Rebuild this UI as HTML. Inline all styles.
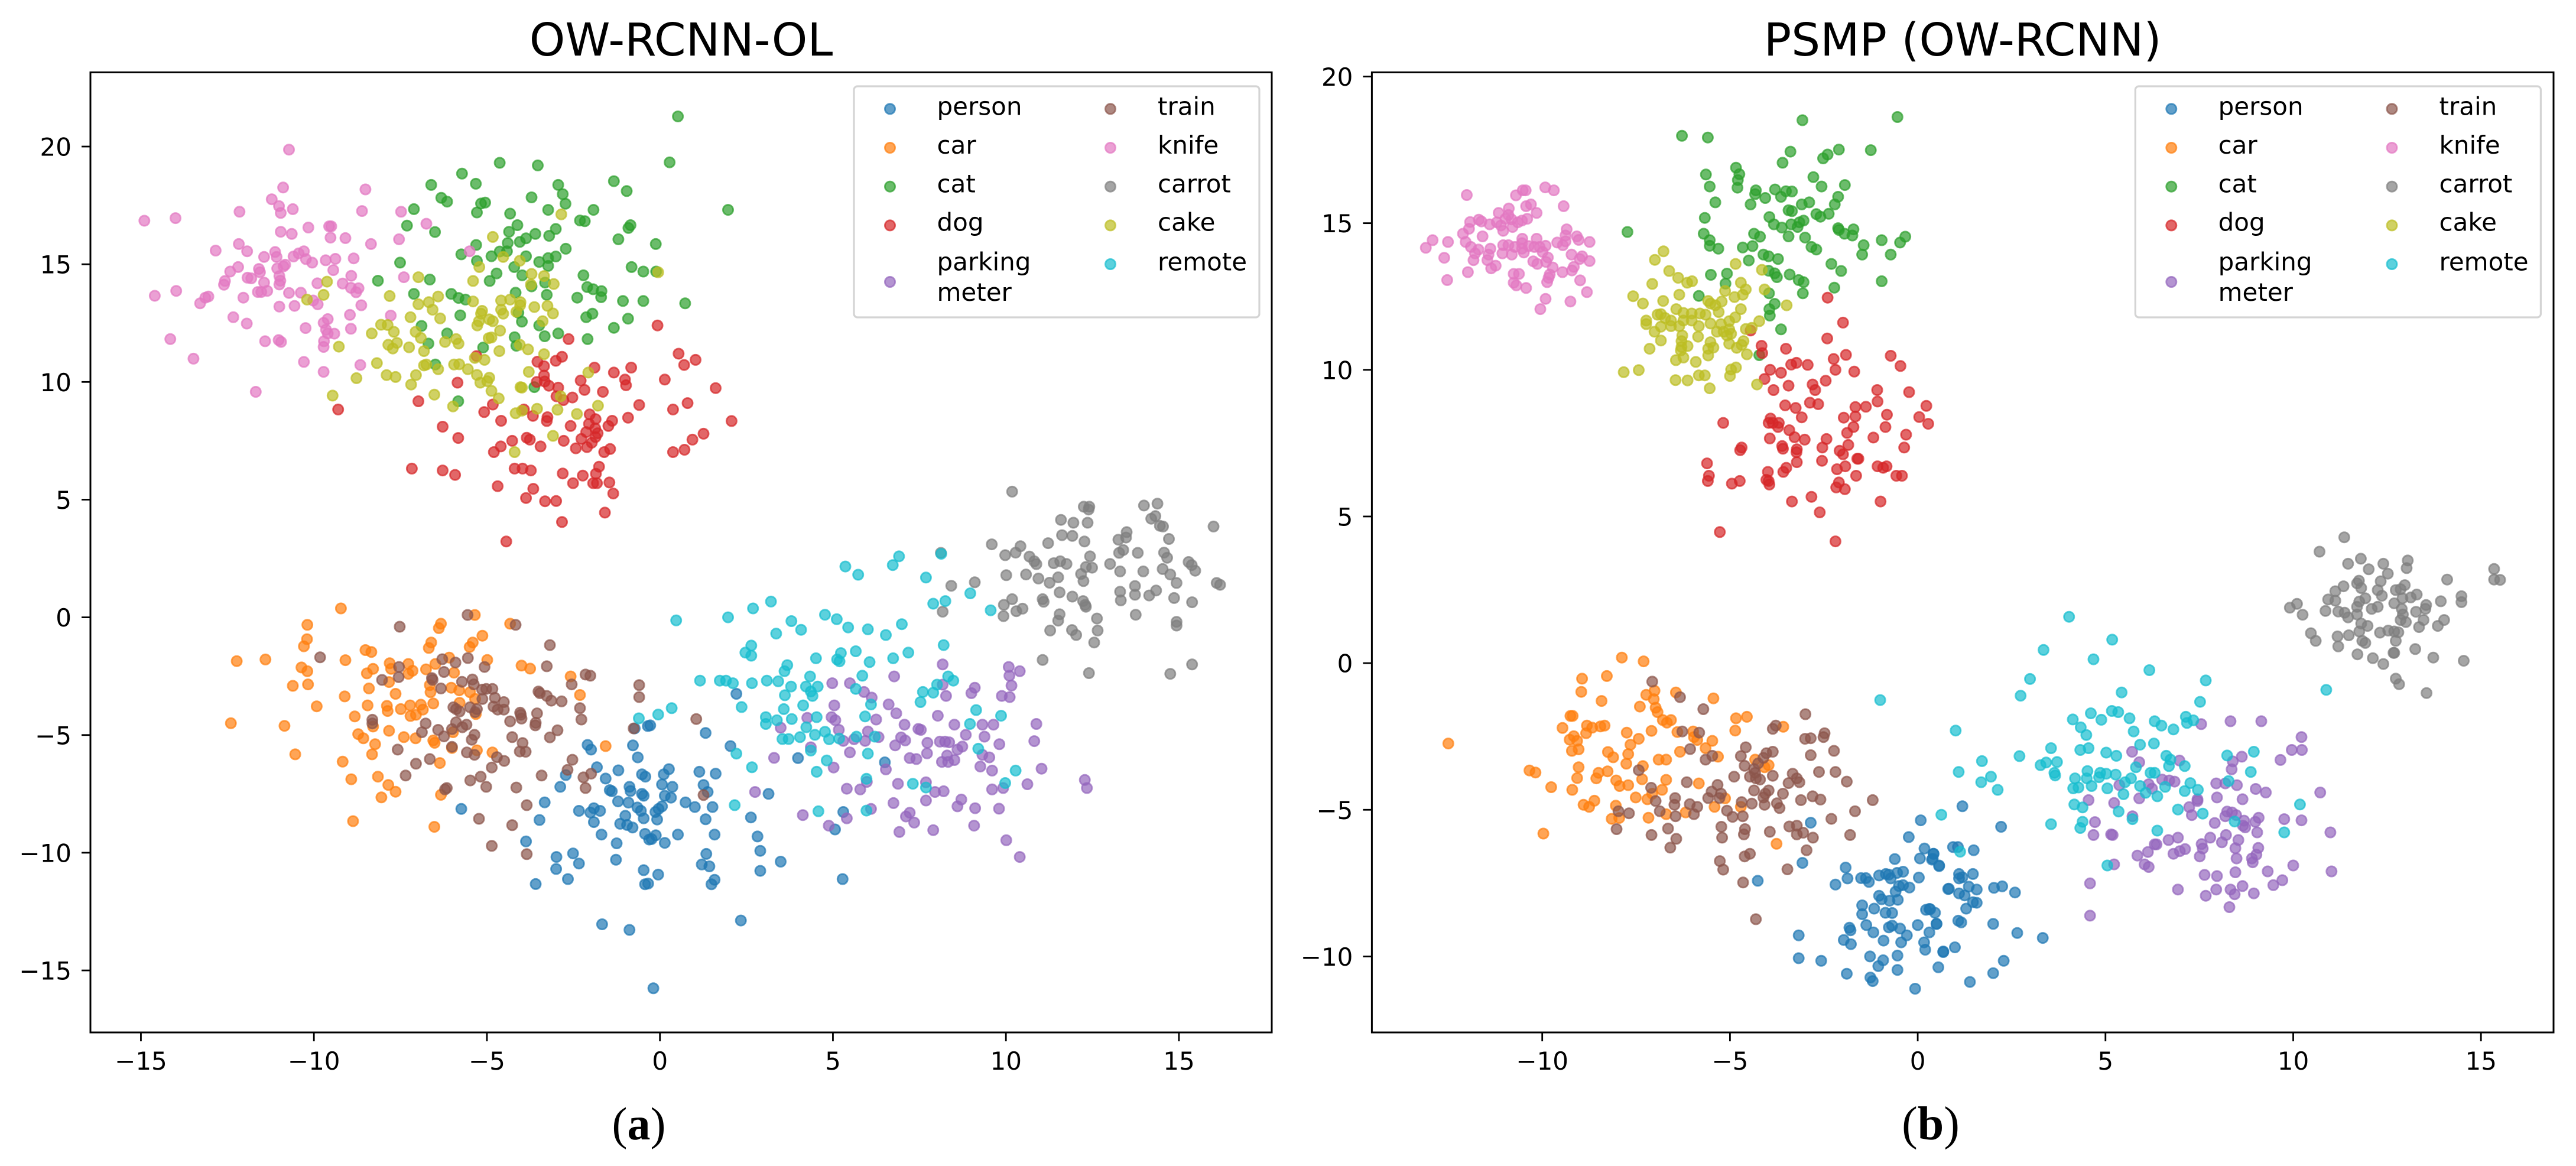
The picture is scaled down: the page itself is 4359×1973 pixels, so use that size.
<!DOCTYPE html>
<html lang="en">
<head>
<meta charset="utf-8">
<title>OW-RCNN-OL vs PSMP (OW-RCNN)</title>
<style>
html,body{margin:0;padding:0;background:#fff;}
svg{display:block;}
text{font-family:"DejaVu Sans","Liberation Sans",sans-serif;fill:#000;}
.cap{font-family:"Liberation Serif",serif;}
</style>
</head>
<body>
<svg id="fig" xmlns="http://www.w3.org/2000/svg" width="4359" height="1973" viewBox="0 0 4359 1973">
<rect x="0" y="0" width="4359" height="1973" fill="#fff"/>
<text class="cap" x="1081" y="1928" font-size="78" text-anchor="middle">(<tspan font-weight="bold">a</tspan>)</text>
<text class="cap" x="3267" y="1928" font-size="80" text-anchor="middle">(<tspan font-weight="bold">b</tspan>)</text>
</svg>
<script>
const categories=['person','car','cat','dog','parking\nmeter','train','knife','carrot','cake','remote'];
const seriesColors=['#1f77b4','#ff7f0e','#2ca02c','#d62728','#9467bd','#8c564b','#e377c2','#7f7f7f','#bcbd22','#17becf'];
const xTicksA=[-15,-10,-5,0,5,10,15];
const yTicksA=[-15,-10,-5,0,5,10,15,20];
const xTicksB=[-10,-5,0,5,10,15];
const yTicksB=[-10,-5,0,5,10,15,20];

const olPerson=[[-5.74,-8.14],[-3.87,-9.52],[-3.59,-11.33],[-3.48,-8.61],[-3.33,-7.86],[-2.99,-10.18],[-3,-10.69],[-2.66,-11.12],[-2.51,-10.03],[-2.34,-10.46],[-2.88,-7.2],[-2.72,-6.7],[-2.34,-8.22],[-2.01,-8.29],[-1.91,-8.11],[-1.73,-8.22],[-1.91,-8.7],[-1.69,-9.23],[-2.09,-5.42],[-1.99,-5.62],[-1.82,-6.37],[-1.57,-6.85],[-1.45,-7.34],[-1.39,-7.39],[-1.2,-6.5],[-1.21,-7.82],[-.91,-7.87],[-1,-8.43],[-1.15,-8.77],[-.95,-8.82],[-.79,-8.93],[-1.25,-9.6],[-1.27,-10.3],[-1.67,-13.04],[-.88,-13.28],[-.78,-5.44],[-.64,-5.95],[-.73,-4.72],[-.35,-4.62],[-.88,-7.2],[-.85,-7.38],[-.52,-6.67],[-.42,-6.77],[-.52,-7.5],[-.47,-7.58],[-.65,-8.08],[-.55,-8.22],[-.47,-8.54],[-.43,-9.2],[-.31,-9.44],[-.47,-10.74],[-.43,-11.34],[-.19,-15.76],[-.28,-4.59],[.26,-6.45],[.11,-6.67],[.06,-7.1],[.36,-7.2],[.14,-7.58],[.32,-7.66],[.06,-8.03],[-.04,-8.14],[-.13,-8.27],[-.08,-8.59],[.74,-7.86],[1.01,-8.06],[-.12,-9.26],[-.24,-9.42],[.14,-9.58],[.52,-9.23],[-.05,-10.93],[-.34,-11.31],[1.14,-6.56],[1.61,-6.64],[1.26,-7.12],[1.38,-7.42],[1.52,-8.06],[1.32,-8.58],[1.58,-9.23],[1.34,-10.05],[1.21,-10.5],[1.43,-10.58],[1.58,-11.15],[1.49,-11.34],[2.21,-3.25],[1.32,-4.91],[2.04,-5.47],[3.14,-7.5],[2.63,-8.5],[2.82,-9.31],[2.9,-9.92],[2.9,-10.77],[3.49,-10.38],[2.34,-12.88],[3.99,-5.98],[6.5,-6.16],[5.3,-8.27],[5.06,-9.01],[5.28,-11.12]];
const olCar=[[-9.22,.38],[-5.35,.1],[-4.33,-.27],[-10.19,-.32],[-6.33,-.27],[-6.39,-.46],[-10.2,-.93],[-10.29,-1.23],[-5.13,-.78],[-6.61,-1.07],[-6.68,-1.3],[-5.41,-1.07],[-5.5,-1.26],[-8.51,-1.39],[-8.34,-1.47],[-12.23,-1.86],[-11.4,-1.79],[-9.09,-1.82],[-6.09,-1.71],[-4.99,-1.81],[-7.81,-1.95],[-7.27,-1.98],[-6.49,-1.98],[-10.36,-2.13],[-10.19,-2.29],[-8.29,-2.19],[-8.47,-2.38],[-7.77,-2.19],[-7.15,-2.27],[-7.27,-2.4],[-6.76,-2.21],[-5.95,-2.35],[-4,-2.05],[-3.75,-2.18],[-2.58,-2.51],[-10.17,-2.85],[-10.61,-2.91],[-8.41,-3.02],[-7.83,-2.75],[-7.64,-3.25],[-6.65,-2.88],[-6.63,-3.18],[-6.03,-2.99],[-5.8,-3.1],[-5.49,-3.18],[-2.31,-3.3],[-9.11,-3.36],[-9.92,-3.78],[-8.45,-3.74],[-7.89,-3.76],[-7.87,-3.98],[-7.49,-3.9],[-7.22,-3.74],[-6.91,-3.71],[-6.85,-3.92],[-6.55,-3.66],[-5.79,-3.63],[-7.21,-4.19],[-7.05,-4.14],[-8.82,-4.21],[-5.32,-4.11],[-5.34,-3.47],[-12.4,-4.5],[-10.85,-4.61],[-8.29,-4.64],[-7.83,-4.82],[-5.98,-4.88],[-8.72,-4.96],[-8.57,-5.14],[-7.4,-5.09],[-7.06,-5.14],[-8.23,-5.39],[-8.32,-5.82],[-6.55,-5.23],[-6.51,-5.33],[-6.01,-5.55],[-5.29,-5.65],[-4.84,-5.74],[-1.57,-5.47],[-10.54,-5.82],[-9.17,-6.13],[-6.36,-6.19],[-8.92,-6.88],[-8.15,-6.77],[-7.85,-7.12],[-7.64,-7.41],[-8.05,-7.65],[-6.33,-7.54],[-8.87,-8.66],[-6.52,-8.9]];
const olCat=[[-4.63,19.31],[-3.53,19.2],[-5.72,18.85],[-6.61,18.37],[-5.32,18.42],[-2.94,18.37],[-1.33,18.53],[-.96,18.11],[-2.81,17.98],[-2.73,17.57],[-6.32,17.82],[-6.15,17.66],[-3.71,17.84],[-5.17,17.58],[-5.05,17.62],[-7.11,17.34],[-5.29,17.2],[-4.33,17.15],[-3.23,17.31],[-1.92,17.31],[-2.31,16.86],[-2.17,16.83],[-7.31,16.64],[-6.5,16.37],[-4.12,16.66],[-4.36,16.38],[-3.01,16.5],[-.85,16.66],[-.91,16.54],[-3.6,16.29],[-3.2,16.21],[-3.87,16.1],[-4.05,15.95],[-4.4,15.9],[-5.31,15.82],[-1.2,16.06],[-.12,15.86],[-5.74,15.42],[-2.72,15.66],[-4.87,15.34],[-4.63,15.54],[-4.42,15.55],[-3.87,15.34],[-5.29,15.14],[-3.49,15.1],[-3.23,15.26],[-3.01,15.33],[-3.23,14.93],[-4.21,14.88],[-7.51,15.07],[-.82,14.88],[-.48,14.69],[-4.72,14.61],[-3.98,14.53],[-2.21,14.53],[-6.65,14.35],[-8.15,14.3],[-4.92,14.29],[-3.71,14.06],[-3.32,14.22],[-2.1,14.03],[-1.93,13.94],[-1.69,13.86],[-1.7,13.6],[-2.39,13.58],[-7.11,13.74],[-6.03,13.74],[-5.82,13.57],[-5.62,13.5],[-4.17,13.79],[-3.27,13.7],[-1.07,13.44],[-.48,13.44],[-5.77,12.83],[-4.09,12.94],[-3.99,12.56],[-2.13,12.75],[-1.95,12.9],[-.92,12.69],[-6.89,12.38],[-3.49,12.4],[-1.33,12.3],[-6.15,12.06],[-2.94,12.06],[-4.2,11.9],[-3.33,11.94],[-2.09,11.82],[-6.69,11.63],[-4.15,11.54],[-5.11,11.46],[-6.49,10.74],[-3.63,9.78],[-5.83,9.18],[.52,21.28],[.28,19.33],[1.97,17.31],[-.11,14.69],[.73,13.34]];
const olDog=[[-2.64,11.82],[-2.83,11.07],[-3.01,10.9],[-3.54,10.86],[-3.35,10.67],[-5.3,11.1],[-1.89,10.61],[-.83,10.61],[-3.35,10.27],[-3.56,10],[-3.33,10.02],[-3.21,9.84],[-2.29,10.06],[-1.33,10.4],[-1.01,10.1],[-.98,9.86],[-5.85,9.97],[-2.94,9.76],[-2.18,9.66],[-1.65,9.58],[-2.99,9.39],[-2.79,9.23],[-2.53,9.34],[-6.98,9.18],[-.6,9.02],[-4.83,9.04],[-5.08,8.72],[-9.3,8.83],[-3.93,8.83],[-3.67,8.56],[-3.25,8.5],[-3.27,8.34],[-2.03,8.62],[-1.86,8.42],[-.92,8.48],[-4.59,8.35],[-1.38,8.35],[-1.49,8.13],[-2.58,8.13],[-2.05,8.22],[-2.13,7.87],[-1.87,8.03],[-1.8,7.82],[-1.86,7.66],[-6.28,8.1],[-5.83,7.62],[-3.85,7.63],[-3.76,7.55],[-4.27,7.5],[-2.78,7.5],[-2.27,7.58],[-1.97,7.42],[-4.6,7.26],[-4.8,7.02],[-3.45,7.26],[-2.43,7.18],[-2.11,7.23],[-1.44,7.15],[-1.61,7.02],[-7.17,6.32],[-6.28,6.24],[-5.92,6.05],[-4.2,6.32],[-3.97,6.32],[-3.73,6.24],[-1.76,6.4],[-2.81,6.11],[-2.51,5.7],[-2.23,6.02],[-1.85,6.1],[-1.93,5.7],[-1.82,5.7],[-1.46,5.73],[-1.35,5.26],[-4.69,5.57],[-3.66,5.46],[-3.87,5.07],[-3.32,4.93],[-3,4.94],[-1.59,4.45],[-2.83,4.05],[-4.44,3.22],[-.07,12.4],[.54,11.2],[1.03,10.94],[.7,10.72],[.14,10.1],[1.61,9.74],[.8,9.1],[.38,8.83],[2.07,8.34],[1.26,7.8],[.94,7.55],[.71,7.12],[.38,7.02]];
const olParking=[[8.17,-2],[10.08,-2.11],[10.1,-2.48],[10.4,-2.29],[10.16,-2.9],[6.77,-2.51],[4.98,-2.8],[5.49,-2.8],[8.17,-2.86],[9.1,-2.99],[9,-3.22],[5.9,-3.17],[6.12,-3.41],[8.27,-3.34],[9.88,-3.34],[10.11,-3.39],[5.04,-3.74],[6.61,-3.7],[6.83,-4.08],[8.03,-4.18],[4.26,-4.27],[4.96,-4.24],[5.07,-4.37],[6.25,-4.34],[10.88,-4.53],[7.07,-4.56],[8.51,-4.56],[9.32,-4.56],[9.64,-4.56],[3.49,-4.69],[7.47,-4.74],[7.54,-4.78],[5.17,-4.78],[6.01,-4.85],[8.84,-4.99],[9.38,-5.07],[6.97,-5.1],[7.09,-5.23],[6.32,-5.09],[5.61,-5.18],[5.93,-5.25],[5.3,-5.25],[7.73,-5.33],[8.09,-5.28],[8.24,-5.28],[8.36,-5.31],[10.82,-5.26],[9.81,-5.39],[6.8,-5.44],[8.74,-5.49],[8.6,-5.62],[4.36,-5.52],[5.49,-5.74],[7.72,-5.78],[9.32,-5.84],[9.52,-5.95],[8.3,-5.87],[3.3,-5.97],[7.22,-5.98],[7.41,-6.02],[8.51,-6.06],[8.15,-6.14],[8.33,-6.14],[5.02,-6.38],[6.53,-6.46],[9.26,-6.34],[9.6,-6.51],[11.03,-6.43],[12.28,-6.91],[12.34,-7.25],[5.98,-6.99],[6.88,-7.07],[7.69,-7.01],[10.62,-7.09],[5.4,-7.28],[5.79,-7.31],[9.92,-7.25],[9.6,-7.31],[2.75,-7.42],[7.95,-7.42],[8.2,-7.39],[6.75,-7.89],[7.69,-7.78],[8.71,-7.74],[8.6,-8.03],[9.11,-8.11],[9.8,-8.13],[6.1,-8.14],[4.13,-8.4],[7.22,-8.3],[7.11,-8.46],[5.4,-8.54],[7.35,-8.72],[4.88,-8.85],[9.08,-8.85],[6.92,-9.12],[7.9,-9.04],[10.01,-9.47],[10.4,-10.18]];
const olTrain=[[-5.56,.1],[-4.17,-.32],[-7.52,-.4],[-3.18,-1.18],[-9.82,-1.7],[-6.29,-1.78],[-5.91,-1.92],[-5.55,-1.73],[-7.54,-2.11],[-7.55,-2.54],[-8.03,-2.66],[-6.24,-2.32],[-6.59,-2.58],[-6.57,-2.66],[-5.07,-2.11],[-3.27,-2.08],[-5.42,-2.64],[-5.72,-2.74],[-5.38,-2.85],[-2.15,-2.43],[-2.01,-2.48],[-2.55,-2.85],[-.6,-2.88],[-6.33,-3.02],[-5.14,-3.07],[-5.02,-3.04],[-4.84,-3.04],[-3.51,-3.15],[-3.47,-3.22],[-3.27,-3.34],[-3.14,-3.54],[-2.84,-3.57],[-5.13,-3.47],[-4.77,-3.42],[-4.51,-3.6],[-.6,-3.39],[-5.97,-3.82],[-5.89,-3.9],[-5.79,-4],[-5.49,-3.82],[-5.29,-3.9],[-5.34,-4.03],[-4.81,-3.79],[-4.69,-3.92],[-4.51,-3.92],[-2.31,-3.86],[-2.27,-4.34],[-4.04,-4.05],[-4.02,-4.14],[-3.55,-4.08],[-4,-4.3],[-4.33,-4.42],[-8.31,-4.35],[-8.31,-4.51],[-6.77,-4.51],[-5.89,-4.46],[-5.71,-4.67],[-5.59,-4.56],[-3.59,-4.48],[-3.6,-4.59],[-6.01,-4.75],[-.76,-4.72],[-6.41,-4.78],[-6.88,-4.88],[-2.96,-4.8],[-6.24,-5.06],[-5.36,-4.99],[-5.44,-5.2],[-4.27,-5.09],[-3.18,-5.1],[-3.97,-5.34],[-6.01,-5.5],[-7.58,-5.62],[-5.58,-5.74],[-5.36,-5.84],[-4.05,-5.7],[-3.88,-5.71],[-6.65,-6.02],[-7.05,-6.22],[-4.71,-5.94],[-4.5,-6.1],[-2.53,-6.05],[-4.86,-6.38],[-2.67,-6.48],[-1.99,-6.64],[-2.21,-6.8],[-3.42,-6.72],[-7.35,-6.72],[-5.48,-6.93],[-5.18,-6.77],[-5.02,-7.2],[-4.15,-7.23],[-2.15,-7.25],[-6.16,-7.25],[-6.21,-7.31],[-3.85,-7.98],[-5.23,-8.56],[-4.27,-8.83],[-4.86,-9.71],[-3.85,-10.06],[1.05,-4.32],[1.26,-7.55]];
const olKnife=[[-10.72,19.87],[-10.89,18.26],[-8.51,18.18],[-11.22,17.76],[-11.01,17.47],[-10.96,17.18],[-10.61,17.34],[-12.15,17.23],[-14.9,16.85],[-14,16.96],[-8.61,17.26],[-7.48,17.23],[-6.75,16.72],[-10.16,16.56],[-9.56,16.61],[-9.5,16.61],[-10.96,16.38],[-10.64,16.29],[-9.52,16.13],[-9.09,16.11],[-7.54,16.06],[-8.35,15.86],[-12.17,15.86],[-12.84,15.58],[-11.93,15.55],[-11.12,15.52],[-11.08,15.31],[-11.44,15.31],[-10.29,15.55],[-10.44,15.46],[-10.59,15.33],[-10.23,15.22],[-10.05,15.07],[-9.66,15.17],[-9.38,15.23],[-8.85,15.25],[-5.5,15.55],[-10.83,14.98],[-10.88,14.91],[-11.06,14.82],[-9.44,14.75],[-12.19,14.88],[-12.42,14.69],[-11.59,14.8],[-11.56,14.66],[-11.92,14.43],[-11.81,14.4],[-11,14.5],[-10.97,14.3],[-11,14.14],[-11.44,14.22],[-12.57,14.29],[-12.6,14.13],[-9.9,14.19],[-9.17,14.18],[-8.92,14.51],[-7.4,14.45],[-8.93,14],[-8.71,13.98],[-8.78,13.81],[-11.35,13.87],[-11.62,13.82],[-11.52,13.82],[-10.72,13.78],[-10.38,13.79],[-14.6,13.66],[-13.98,13.87],[-12.04,13.58],[-13.05,13.63],[-13.14,13.58],[-13.29,13.34],[-10.02,13.46],[-9.89,13.3],[-11,13.2],[-10.56,13.23],[-8.63,13.26],[-8.96,12.85],[-7.78,12.82],[-12.33,12.75],[-11.94,12.48],[-9.6,12.67],[-9.72,12.51],[-10.24,12.29],[-8.93,12.26],[-9.65,12.22],[-9.6,12.06],[-9.41,12.05],[-14.15,11.82],[-11.41,11.73],[-11.02,11.78],[-10.95,11.7],[-9.71,11.73],[-9.72,11.49],[-13.48,10.99],[-10.29,10.85],[-8.66,10.72],[-9.72,10.43],[-11.68,9.58]];
const olCarrot=[[10.18,5.34],[12.25,4.7],[12.41,4.7],[12.39,4.58],[13.99,4.75],[14.38,4.83],[11.59,4.14],[11.95,4.02],[12.36,4.02],[14.32,4.3],[14.2,4.19],[16,3.86],[14.45,3.89],[14.54,3.86],[13.49,3.62],[13.47,3.39],[13.25,3.3],[11.62,3.49],[11.92,3.46],[14.71,3.33],[12.27,3.22],[11.22,3.15],[9.59,3.1],[10.42,3.02],[10.28,2.75],[9.98,2.64],[10.68,2.58],[10.82,2.38],[10.88,2.26],[8.12,2.74],[13.39,2.86],[13.27,2.74],[13.81,2.74],[14.57,2.75],[14.66,2.53],[12.43,2.59],[11.38,2.3],[11.57,2.38],[11.75,2.27],[12.31,2.14],[12.49,2.11],[13.01,2.27],[15.28,2.35],[15.37,2.22],[15.47,1.98],[13.3,1.95],[13.97,1.95],[14.53,2.05],[14.75,1.82],[10.01,1.79],[10.58,1.82],[10.94,1.65],[11.51,1.7],[12.17,1.84],[12.24,1.54],[11.26,1.47],[14.93,1.46],[9.1,1.49],[8.42,1.34],[16.09,1.46],[16.19,1.38],[11.55,1.06],[11.92,.88],[12.23,.69],[12.29,.53],[12.31,.45],[13.3,1.09],[13.32,.72],[13.73,1.33],[13.73,.96],[14.14,.93],[14.34,1.14],[14.86,.82],[15.38,.64],[11.06,.77],[11.09,.66],[10.18,.77],[9.94,.53],[10.48,.37],[10.3,.26],[9.93,.05],[11.55,.13],[11.51,-.14],[12.63,-.05],[13.75,.11],[8.17,.24],[14.93,-.19],[14.93,-.35],[11.28,-.56],[11.91,-.54],[12.03,-.75],[12.65,-.56],[12.55,-1.07],[11.06,-1.81],[12.4,-2.37],[14.75,-2.4],[15.38,-2]];
const olCake=[[-2.85,17.12],[-4.83,16.16],[-4.53,15.31],[-4.05,15.15],[-5.22,14.88],[-3.71,14.59],[-3.35,14.5],[-6.98,14.45],[-5.4,14.29],[-3.73,14.14],[-3.07,14.16],[-9.62,14.26],[-9.72,13.7],[-10.2,13.5],[-7.81,13.65],[-6.41,13.63],[-6.68,13.39],[-6.98,13.3],[-5.4,13.42],[-4.59,13.46],[-4.33,13.5],[-4.03,13.39],[-4.04,13.26],[-3.63,13.18],[-3.25,13.23],[-3.09,12.91],[-6.57,13.07],[-7.21,12.75],[-6.35,12.7],[-5.14,13.02],[-4.59,13.07],[-4.53,12.9],[-4.15,12.98],[-5.17,12.9],[-5.23,12.58],[-5.28,12.4],[-4.93,12.66],[-4.83,12.58],[-3.39,12.58],[-8.06,12.43],[-7.87,12.42],[-7.69,12.13],[-7.06,12.13],[-6.91,11.87],[-8.33,12.06],[-4.62,12.18],[-4.95,11.86],[-4.87,11.89],[-5.89,11.82],[-5.82,11.63],[-6.21,11.7],[-7.85,11.58],[-7.6,11.66],[-7.72,11.42],[-7.25,11.47],[-9.28,11.5],[-6.82,11.31],[-4.64,11.31],[-4.05,11.58],[-3.81,11.38],[-3.35,11.18],[-5.35,11.02],[-5.07,10.94],[-8.18,10.8],[-6.82,10.7],[-6.75,10.74],[-6.41,10.54],[-5.95,10.74],[-5.8,10.75],[-5.55,10.54],[-7.05,10.29],[-7.9,10.29],[-7.64,10.21],[-8.77,10.16],[-5.29,10.3],[-4.93,10.18],[-5.19,9.97],[-4.99,10.03],[-7.19,9.89],[-3.79,10.43],[-2.07,10.4],[-4.03,9.78],[-3.99,9.76],[-4.87,9.62],[-6.52,9.46],[-4.66,9.3],[-2.87,9.39],[-9.46,9.42],[-5.98,8.96],[-3.55,8.86],[-2.96,8.82],[-1.79,8.99],[-4.17,8.67],[-3.99,8.78],[-2.4,8.64],[-3.09,7.71],[-4.2,7.02],[-.05,14.66]];
const olRemote=[[5.36,2.16],[5.73,1.81],[6.91,2.59],[6.73,2.22],[7.69,1.69],[8.13,2.7],[8.97,1.02],[8.25,.69],[7.9,.58],[9.56,.3],[.47,-.13],[1.97,0],[2.69,.38],[3.21,.67],[4.77,.11],[5.11,-.08],[5.44,-.43],[3.8,-.16],[4.08,-.53],[3.36,-.69],[6.01,-.51],[6.53,-.75],[6.99,-.29],[8.2,-1.18],[2.64,-1.2],[2.47,-1.5],[2.64,-1.63],[5.66,-1.44],[5.23,-1.52],[5.12,-1.79],[5.19,-1.87],[6.06,-1.9],[4.51,-1.74],[6.74,-1.74],[7.18,-1.5],[3.68,-2.03],[3.6,-2.29],[1.16,-2.69],[1.73,-2.69],[1.91,-2.69],[2.11,-2.8],[2.66,-2.8],[3.09,-2.69],[3.42,-2.72],[4.34,-2.51],[5.85,-2.48],[8.33,-2.51],[8.48,-2.69],[3.79,-2.94],[4.22,-2.94],[4.56,-2.94],[5.66,-3.04],[8.01,-2.86],[4.36,-3.15],[4.41,-3.34],[3.61,-3.31],[7.6,-3.17],[7.9,-3.2],[7.53,-3.6],[6.1,-3.7],[2.36,-3.81],[.34,-3.86],[-.05,-4.13],[4.14,-3.74],[3.58,-3.9],[9.14,-3.94],[3.06,-4.24],[3.06,-4.53],[3.38,-4.37],[3.81,-4.32],[4.53,-4.24],[5.93,-4.21],[9.86,-4.18],[8.96,-4.53],[4.23,-4.67],[4.48,-4.99],[4.77,-4.86],[4.05,-5.09],[3.72,-5.17],[3.54,-5.17],[4.89,-5.18],[5.18,-5.15],[5.68,-5.07],[6.21,-5.07],[2.21,-5.79],[4.36,-5.66],[6.01,-5.79],[9.2,-5.58],[4.82,-6.08],[2.66,-6.37],[4.53,-6.56],[10.28,-6.51],[5.97,-6.86],[7.31,-7.07],[7.69,-7.23],[9.98,-7.04],[2.16,-7.98],[4.58,-8.24],[5.97,-8.21],[-.61,-4.29]];

const psPerson=[[-2.85,-5.44],[.08,-5.36],[-.24,-5.93],[.18,-6.32],[.42,-6.5],[.4,-6.67],[.06,-6.66],[-.61,-6.68],[.57,-6.9],[-3.07,-6.81],[-1.92,-6.97],[-1.87,-7.34],[-2.19,-7.55],[-1.51,-7.33],[-1.38,-7.33],[-1.3,-7.46],[-1.03,-7.24],[-.85,-7.19],[-.77,-7.21],[-.72,-7.34],[-.55,-7.15],[-.39,-7.11],[.03,-7.31],[-4.26,-7.42],[-.5,-7.6],[-.39,-7.57],[-.22,-7.65],[-.59,-7.79],[-.53,-8.07],[.81,-7.7],[-1.03,-7.93],[-.96,-8.05],[-.75,-8.1],[-1.48,-8.26],[-1.16,-8.37],[-1.48,-8.56],[.22,-8.41],[.33,-8.39],[.46,-8.51],[-.86,-8.51],[-.68,-8.52],[-1.37,-8.93],[.5,-8.89],[0,-8.93],[-.77,-9.01],[-.68,-8.95],[-.47,-9.05],[-1.82,-9.02],[-1.79,-9.11],[-1.18,-9.18],[.31,-9.18],[-3.17,-9.28],[-.29,-9.28],[-1.97,-9.44],[-1.78,-9.58],[-.91,-9.46],[-.44,-9.52],[.17,-9.52],[.2,-9.77],[.68,-9.85],[-.54,-9.97],[-1.27,-10],[-3.17,-10.06],[-2.57,-10.15],[-.92,-10.13],[-1.05,-10.33],[-.54,-10.46],[.55,-10.37],[-1.89,-10.59],[-1.26,-10.72],[-1.2,-10.84],[-.07,-11.1],[1.19,-4.88],[2.22,-5.58],[.94,-6.27],[1.07,-6.27],[1.49,-6.38],[.42,-6.5],[.38,-6.7],[.57,-6.92],[1.1,-7.19],[1.19,-7.3],[1.47,-7.19],[1.1,-7.34],[.83,-7.69],[1.36,-7.62],[1.57,-7.72],[1.1,-7.85],[1.25,-7.92],[2.03,-7.66],[2.25,-7.61],[2.59,-7.82],[1.57,-8.17],[1.47,-8.15],[1.29,-8.37],[.31,-8.38],[.5,-8.89],[1.08,-8.78],[1.16,-8.84],[2.01,-8.89],[2.65,-9.2],[3.33,-9.37],[.99,-9.69],[.68,-9.83],[2.29,-10.15],[2.01,-10.57],[1.39,-10.87]];
const psCar=[[-7.88,.19],[-7.3,.06],[-8.28,-.44],[-8.94,-.53],[-8.96,-.98],[-8.42,-1.29],[-7.01,-.94],[-7.23,-1.08],[-7.03,-1.23],[-6.44,-1],[-5.44,-1.2],[-7.4,-1.48],[-6.98,-1.52],[-6.93,-1.67],[-9.25,-1.8],[-9.19,-1.8],[-4.84,-1.88],[-4.55,-1.83],[-6.79,-1.94],[-6.57,-1.94],[-6.68,-2.03],[-3.58,-2.17],[-9.46,-2.21],[-8.81,-2.13],[-8.67,-2.2],[-8.45,-2.16],[-8.34,-2.13],[-4.86,-2.3],[-8.83,-2.39],[-7.09,-2.31],[-7.75,-2.37],[-6.4,-2.35],[-5.98,-2.33],[-5.96,-2.52],[-5.87,-2.62],[-12.5,-2.74],[-9.16,-2.49],[-9.27,-2.61],[-9.07,-2.65],[-7.43,-2.58],[-7.65,-2.78],[-5.47,-2.65],[-9.03,-2.94],[-9.21,-2.99],[-8.25,-3.03],[-8.11,-3.21],[-7.71,-3.1],[-6.33,-3.02],[-5.65,-2.9],[-5.32,-3.19],[-6.9,-3.29],[-6.7,-3.29],[-4.33,-3.29],[-7.76,-3.43],[-7.32,-3.51],[-9.03,-3.55],[-3.97,-3.48],[-4.08,-3.55],[-10.34,-3.66],[-10.18,-3.73],[-8.5,-3.74],[-8.26,-3.69],[-8.56,-3.93],[-9.07,-3.92],[-7.34,-3.96],[-8.03,-4],[-6.7,-3.98],[-7.94,-4.19],[-7.71,-4.16],[-5.83,-4.1],[-9.76,-4.23],[-9.2,-4.32],[-6.81,-4.32],[-7.51,-4.58],[-7.2,-4.64],[-7.07,-4.45],[-5.13,-4.61],[-8.61,-4.69],[-8.9,-4.83],[-8.75,-4.9],[-5.41,-4.9],[-4.71,-4.9],[-8.04,-4.86],[-6.7,-5.15],[-6.18,-5.09],[-8.15,-5.31],[-7.95,-5.28],[-7.17,-5.27],[-9.97,-5.81],[-3.76,-6.16]];
const psCat=[[-.54,18.62],[-3.07,18.51],[-6.28,17.98],[-5.59,17.92],[-3.39,17.44],[-3.6,17.06],[-2.1,17.51],[-1.25,17.49],[-2.4,17.34],[-2.52,17.21],[-4.84,16.89],[-4.75,16.67],[-4.79,16.47],[-4.8,16.21],[-5.64,16.66],[-5.54,16.25],[-2.78,16.57],[-2.56,16.25],[-1.94,16.3],[-4.31,16.12],[-4.33,15.99],[-4.06,15.86],[-3.8,16.15],[-3.64,15.9],[-3.51,16.09],[-3.35,16.08],[-2.12,15.9],[-2.21,15.64],[-5.39,15.71],[-4.45,15.64],[-3.09,15.64],[-2.89,15.71],[-3.44,15.44],[-3.35,15.41],[-2.7,15.31],[-2.59,15.22],[-2.37,15.32],[-5.67,15.18],[-3.95,15.21],[-3.04,15.09],[-3.15,15.03],[-3.37,14.96],[-3.83,14.96],[-3.62,14.85],[-3.2,14.87],[-2.12,14.83],[-2.1,14.77],[-1.71,14.79],[-1.95,14.64],[-1.74,14.58],[-7.73,14.7],[-4.36,14.64],[-4.2,14.54],[-3.44,14.55],[-3,14.51],[-5.7,14.64],[-5.54,14.42],[-5.54,14.23],[-5.31,14.13],[-.96,14.42],[-.33,14.54],[-.47,14.34],[-1.44,14.25],[-4.66,14.17],[-4.4,14.22],[-2.83,14.19],[-2.7,14.1],[-1.48,13.93],[-.72,13.93],[-4.11,13.93],[-3.97,13.87],[-3.72,13.78],[-4.5,13.73],[-2.3,13.61],[-2.04,13.37],[-3.97,13.38],[-3.81,13.29],[-3.75,13.16],[-3.41,13.25],[-5.08,13.28],[-5.51,13.24],[-5.12,12.94],[-3.17,13.06],[-3.04,12.99],[-.96,13.02],[-2.22,12.8],[-3.06,12.61],[-3.96,12.61],[-5.83,12.52],[-3.81,12.25],[-3.95,12.07],[-3.94,11.85],[-3.64,11.38],[-4.22,10.5]];
const psDog=[[-2.4,12.46],[-1.99,11.61],[-4.45,11.34],[-2.41,11.07],[-4.16,10.82],[-4.14,10.57],[-3.51,10.72],[-1.91,10.51],[-2.24,10.37],[-.72,10.48],[-.46,10.13],[-3.37,10.18],[-3.23,10.24],[-2.93,10.17],[-3.93,10],[-3.64,9.9],[-2.19,10],[-1.69,9.94],[-4.08,9.69],[-2.45,9.63],[-3.44,9.46],[-2.8,9.5],[-2.73,9.31],[-3.84,9.31],[-1.08,9.31],[-1.07,8.92],[-.23,9.24],[-2.87,8.88],[-2.65,8.83],[-3.53,8.79],[-3.25,8.7],[-1.66,8.73],[-1.38,8.74],[.23,8.77],[-.82,8.47],[.04,8.39],[-3.09,8.38],[-1.97,8.37],[-1.66,8.41],[.28,8.16],[-5.18,8.19],[-3.92,8.34],[-3.97,8.19],[-3.86,8.19],[-3.7,8.19],[-3.72,8.05],[-3.42,7.94],[-.86,8.05],[-1.71,8.05],[-1.88,7.85],[-.31,7.79],[-3.94,7.66],[-3.28,7.7],[-3.01,7.62],[-2.43,7.64],[-1.18,7.69],[-4.69,7.35],[-4.73,7.26],[-3.61,7.4],[-3.59,7.31],[-3.22,7.29],[-3.23,7.19],[-2.54,7.35],[-1.85,7.44],[-2.08,7.24],[-1.99,7.12],[-.36,7.35],[-1.61,6.97],[-1.58,6.97],[-2.55,6.9],[-3.22,6.85],[-5.61,6.81],[-2.15,6.61],[-1.93,6.71],[-1.64,6.39],[-1.07,6.71],[-.92,6.66],[-.83,6.71],[-3.5,6.66],[-3.58,6.52],[-3.99,6.52],[-.57,6.39],[-.42,6.39],[-5.56,6.39],[-5.59,6.21],[-4.03,6.25],[-3.97,6.21],[-3.95,6.09],[-4.74,6.21],[-4.95,6.12],[-2.1,6.16],[-2.17,5.99],[-1.94,5.93],[-2.83,5.67],[-3.35,5.51],[-.99,5.51],[-2.61,5.14],[-5.27,4.47],[-2.19,4.15]];
const psParking=[[8.33,-1.98],[9.15,-1.98],[7.55,-2.08],[10.22,-2.52],[9.96,-2.96],[10.23,-2.96],[9.66,-3.3],[8.63,-3.19],[8.39,-3.35],[8.36,-3.62],[5.71,-3.02],[5.9,-3.38],[6.97,-3.32],[6.51,-3.97],[6.7,-4],[6.84,-4.04],[6.15,-4.13],[5.37,-4.16],[6.24,-4.28],[7.95,-4.1],[8.19,-4.1],[8.5,-4.16],[9,-4.29],[9.27,-4.41],[10.72,-4.41],[5.9,-4.61],[7.97,-4.58],[8.65,-4.64],[7.45,-4.64],[7.45,-4.7],[4.55,-4.67],[5.23,-4.77],[7.23,-4.91],[7.3,-5.18],[8.24,-5.06],[8.37,-5.09],[8.19,-5.22],[8.48,-5.18],[9.08,-5.27],[9.76,-5.32],[10.22,-5.36],[8.99,-5.41],[8.69,-5.37],[8.66,-5.54],[8.72,-5.6],[4.72,-5.42],[7.91,-5.45],[5.72,-5.22],[10.99,-5.77],[9.04,-5.77],[4.68,-5.86],[5.15,-5.84],[5.19,-5.86],[6.68,-6.03],[6.93,-5.95],[7.79,-5.95],[8.21,-5.86],[8.54,-6.03],[8.1,-6.11],[6.31,-6.18],[6.36,-6.18],[7.56,-6.17],[7.59,-6.32],[8.46,-6.31],[9.07,-6.3],[7.12,-6.34],[6.98,-6.41],[6.13,-6.44],[6.81,-6.5],[5.85,-6.56],[7.51,-6.59],[9.02,-6.53],[8.9,-6.66],[8.49,-6.66],[8.92,-6.79],[6.04,-6.86],[6.15,-6.95],[5.23,-6.86],[9.32,-7.1],[11.02,-7.1],[10,-6.9],[8.46,-7.13],[7.64,-7.22],[7.97,-7.26],[9.71,-7.4],[9.47,-7.57],[4.59,-7.51],[6.93,-7.72],[7.95,-7.72],[8.33,-7.72],[8.65,-7.6],[8.44,-7.88],[7.67,-7.93],[8.95,-7.85],[8.3,-8.32],[4.59,-8.61]];
const psTrain=[[-7.07,-.63],[-6.33,-1.16],[-5.71,-1.57],[-2.99,-1.74],[-3.78,-2.13],[-3.86,-2.24],[-3,-2.58],[-2.85,-2.56],[-2.48,-2.39],[-2.51,-2.52],[-6.27,-2.33],[-5.82,-2.37],[-6.06,-2.93],[-4.58,-2.87],[-3.86,-3.02],[-4.03,-3.07],[-4.11,-3.23],[-2.23,-2.99],[-2.85,-3.14],[-4.71,-3.17],[-5.65,-3.29],[-5.47,-3.16],[-4.61,-3.5],[-4.25,-3.42],[-7.43,-3.65],[-2.63,-3.71],[-2.19,-3.71],[-4.36,-3.61],[-4.33,-3.74],[-3.33,-3.77],[-3.86,-3.84],[-4.89,-3.87],[-4.47,-3.87],[-4.31,-3.93],[-4.2,-3.97],[-3.22,-3.93],[-3.15,-4.06],[-3.44,-4.09],[-1.89,-4.04],[-6.15,-4.06],[-5.33,-4.15],[-7.1,-4.25],[-4.36,-4.34],[-3.97,-4.34],[-4.06,-4.45],[-5.49,-4.38],[-5.24,-4.45],[-5.58,-4.6],[-5.28,-4.6],[-3.59,-4.45],[-6.46,-4.6],[-6.48,-4.83],[-2.8,-4.54],[-2.59,-4.65],[-3.11,-4.67],[-1.2,-4.67],[-6.98,-4.7],[-6.07,-4.81],[-5.87,-4.9],[-5.96,-5.15],[-4.11,-4.58],[-4.08,-4.83],[-4.42,-4.79],[-4.69,-4.74],[-3.75,-4.78],[-3.68,-4.94],[-7.97,-5.05],[-7.69,-5.12],[-6.87,-5.05],[-6.45,-5.22],[-5.08,-5.03],[-4.93,-5.24],[-4.66,-5.22],[-1.67,-5.05],[-2.3,-5.31],[-5.23,-5.58],[-4.6,-5.66],[-8.02,-5.66],[-6.65,-5.64],[-3.42,-5.57],[-3.22,-5.54],[-3.22,-5.84],[-3.05,-5.78],[-3.94,-5.75],[-4.63,-5.84],[-5.21,-5.95],[-7.09,-5.86],[-6.43,-5.99],[-1.8,-5.86],[-2.79,-5.95],[-6.59,-6.29],[-2.96,-6.38],[-4.47,-6.5],[-4.61,-6.59],[-5.27,-6.75],[-5.18,-7.04],[-3.47,-7.03],[-4.65,-7.48],[-4.31,-8.73]];
const psKnife=[[-12.01,15.96],[-9.92,16.22],[-9.69,16.12],[-10.52,16.12],[-10.44,16.12],[-10.7,15.95],[-10.3,15.64],[-10.43,15.58],[-9.43,15.58],[-10.89,15.5],[-11.16,15.35],[-10.9,15.28],[-10.15,15.35],[-10.4,15.15],[-10.54,15.09],[-10.65,15.03],[-11.69,15.12],[-11.92,15.04],[-11.62,15.06],[-11.4,14.96],[-11.21,15.03],[-11.1,14.92],[-10.98,15.15],[-10.82,15.13],[-11.04,14.74],[-10.79,14.87],[-9.35,14.79],[-9.38,14.58],[-11.95,14.81],[-12.11,14.64],[-11.59,14.55],[-9.08,14.55],[-9.03,14.43],[-12.92,14.42],[-12.51,14.36],[-12.04,14.36],[-8.74,14.36],[-13.1,14.16],[-11.9,14.19],[-11.7,14.1],[-11.38,14.13],[-10.53,14.47],[-10.54,14.32],[-10.15,14.47],[-9.91,14.23],[-9.6,14.34],[-9.38,14.38],[-9.45,14.25],[-11.04,14.25],[-10.9,14.25],[-10.73,14.19],[-10.54,14.13],[-10.36,14.22],[-10.21,14.19],[-10.07,14.19],[-9.99,14.02],[-11.06,13.97],[-10.81,13.93],[-10.49,14],[-11.79,13.97],[-11.83,13.74],[-11.43,13.93],[-11.46,13.74],[-12.61,13.82],[-9.22,13.93],[-8.94,13.87],[-9,13.78],[-8.74,13.71],[-9.85,13.83],[-10.24,13.7],[-10.13,13.61],[-9.9,13.68],[-9.72,13.49],[-9.16,13.51],[-9.21,13.39],[-9.46,13.33],[-11.24,13.55],[-11.36,13.46],[-11.98,13.33],[-10.76,13.27],[-10.62,13.27],[-9.8,13.25],[-9.83,13.14],[-12.53,13.06],[-10.76,12.97],[-10.69,12.88],[-10.43,12.79],[-9.87,12.99],[-8.99,13.05],[-8.81,12.65],[-9.91,12.42],[-9.25,12.33],[-10.05,12.07]];
const psCarrot=[[11.36,4.29],[10.7,3.8],[11.46,3.39],[11.8,3.56],[12.4,3.39],[13.05,3.5],[13.02,3.24],[12.01,3.2],[12.52,3.05],[15.35,3.21],[15.35,2.85],[15.51,2.84],[14.1,2.85],[12.33,2.79],[11.75,2.81],[11.81,2.56],[11.7,2.72],[11.34,2.62],[11.12,2.45],[10.93,2.17],[11.12,2.13],[12.97,2.66],[12.86,2.52],[12.73,2.49],[12.25,2.49],[12.36,2.3],[11.92,2.21],[13.29,2.34],[13.13,2.24],[12.91,2.21],[14.48,2.28],[14.48,2.08],[13.93,2.11],[11.76,2.1],[12.69,2.04],[13.54,1.98],[13.52,1.85],[11.7,1.92],[12.25,1.92],[12.09,1.85],[9.91,1.89],[10.1,2.02],[10.25,1.65],[10.86,1.78],[11.2,1.76],[11.37,1.72],[11.46,1.56],[11.7,1.66],[12.89,1.85],[12.92,1.66],[12.86,1.47],[13,1.4],[13.27,1.75],[13.47,1.47],[14.02,1.47],[13.85,1.27],[13.35,1.23],[11.81,1.35],[11.98,1.27],[11.76,1.08],[11.48,.95],[11.18,.91],[12.31,1.04],[12.53,1.11],[12.69,1.08],[12.8,1.05],[10.47,1.02],[10.6,.76],[11.84,.76],[11.92,.69],[12.73,.76],[11.2,.57],[13.25,.48],[12.67,.35],[12.69,.35],[11.71,.3],[12.12,.17],[12.4,-.03],[13.73,.19],[14.54,.08],[12.73,-.53],[12.82,-.72],[13.55,-1.02]];
const psCake=[[-6.77,14.04],[-7,13.75],[-4.85,13.61],[-4.15,13.41],[-6.62,13.37],[-6.38,13.14],[-6.14,12.97],[-6.01,13.02],[-7.07,12.93],[-4.71,12.97],[-4.58,12.74],[-4.66,12.56],[-4.08,12.74],[-5.13,12.69],[-4.88,12.48],[-6.35,12.56],[-7.58,12.51],[-7.32,12.26],[-6.78,12.35],[-5.58,12.35],[-5.52,12.26],[-5.39,12.2],[-5.22,12.33],[-3.49,12.2],[-4.71,12.07],[-5.3,11.97],[-6.43,12.07],[-6.24,11.94],[-6.84,11.9],[-6.93,11.88],[-6.02,11.92],[-5.8,11.92],[-5.65,11.88],[-7.23,11.68],[-7.23,11.56],[-6.73,11.77],[-6.57,11.68],[-6.24,11.68],[-6.02,11.68],[-4.86,11.79],[-5.02,11.66],[-4.22,11.66],[-5.52,11.58],[-5.83,11.49],[-6.84,11.47],[-6.57,11.49],[-6.35,11.49],[-5.24,11.56],[-5.02,11.38],[-4.58,11.39],[-5.17,11.3],[-5.35,11.3],[-7.01,11.3],[-4.42,11.43],[-6.27,11.17],[-5.85,11.13],[-6.84,11],[-5.08,11.17],[-4.97,11.23],[-6.29,10.98],[-4.64,10.98],[-5.52,10.94],[-5.02,10.89],[-4.82,10.75],[-4.69,10.85],[-6.13,10.81],[-6.29,10.78],[-5.44,10.76],[-5.58,10.72],[-7.14,10.72],[-6.31,10.66],[-5.58,10.49],[-4.55,10.53],[-6.24,10.42],[-6.44,10.33],[-5.91,10.27],[-7.83,9.92],[-7.43,9.99],[-4.84,10.08],[-4.97,10.01],[-5.83,9.81],[-5.67,9.81],[-5,9.79],[-6.45,9.65],[-6.13,9.64],[-4.28,9.5],[-5.54,9.37]];
const psRemote=[[4.03,1.58],[5.18,.8],[3.35,.45],[4.68,.13],[6.17,-.24],[2.99,-.54],[7.67,-.59],[2.74,-1.11],[5.43,-1],[10.88,-.91],[7.52,-1.32],[4.13,-1.92],[4.61,-1.71],[4.89,-1.93],[5.17,-1.63],[5.34,-1.67],[5.64,-1.88],[4.34,-2.19],[4.49,-2.45],[5.75,-2.33],[6.31,-1.98],[6.49,-2.13],[6.81,-2.26],[7.14,-1.83],[7.17,-2.04],[7.34,-1.95],[1.01,-2.3],[5.92,-2.78],[6.29,-2.74],[3.55,-2.9],[2.71,-3.17],[4.33,-2.96],[4.55,-2.9],[5.02,-3.05],[5.29,-3.16],[1.71,-3.34],[3.27,-3.48],[3.42,-3.39],[3.71,-3.37],[8.24,-3.15],[8.95,-3.02],[6.62,-3.16],[6.73,-3.29],[6.69,-3.51],[5.81,-3.55],[7.11,-3.51],[1.09,-3.71],[3.64,-3.74],[3.66,-3.83],[8.87,-3.71],[4.52,-3.68],[4.86,-3.74],[5.02,-3.77],[5.27,-3.8],[4.83,-3.89],[6.2,-3.74],[6.31,-3.74],[1.95,-3.87],[4.19,-3.93],[4.5,-3.93],[5.68,-3.93],[5.52,-4.06],[1.69,-4.06],[8.28,-4.02],[2.13,-4.32],[4.14,-4.27],[4.28,-4.24],[4.63,-4.19],[5.05,-4.27],[5.92,-4.19],[6.59,-4.22],[7.26,-4.09],[7.11,-4.36],[7.46,-4.32],[5.48,-4.47],[6.07,-4.42],[6.38,-4.54],[4.17,-4.82],[4.39,-4.92],[10.18,-4.82],[5.35,-5.06],[6.93,-4.99],[7.59,-5.13],[.63,-5.17],[5.72,-5.32],[8.44,-5.4],[3.55,-5.49],[4.39,-5.41],[4.33,-5.62],[6.38,-5.71],[9.76,-5.77],[1.13,-6.43],[5.05,-6.9],[-1,-1.26]];

const seriesA=[olPerson,olCar,olCat,olDog,olParking,olTrain,olKnife,olCarrot,olCake,olRemote];
const seriesB=[psPerson,psCar,psCat,psDog,psParking,psTrain,psKnife,psCarrot,psCake,psRemote];

const NS='http://www.w3.org/2000/svg';
const fig=document.getElementById('fig');
function mk(tag,attrs,parent){
  const el=document.createElementNS(NS,tag);
  for(const k in attrs){el.setAttribute(k,attrs[k]);}
  (parent||fig).appendChild(el);
  return el;
}
function drawPanel(p){
  const xPos=v=>p.x0+v*p.sx;
  const yPos=v=>p.y0-v*p.sy;
  const g=mk('g',{});
  
  

  const plotBg=mk('rect',{x:p.left,y:p.top,width:p.right-p.left,height:p.bottom-p.top,fill:'#fff'},g);
  
  

  p.series.forEach((pts,si)=>{
    const sg=mk('g',{},g);
    
    
    pts.forEach(pt=>{
      const c=mk('circle',{cx:xPos(pt[0]).toFixed(1),cy:yPos(pt[1]).toFixed(1),r:8.6,fill:seriesColors[si],'fill-opacity':0.7,stroke:seriesColors[si],'stroke-opacity':0.7,'stroke-width':2.8},sg);
      
      
    });
  });

  const frame=mk('rect',{x:p.left,y:p.top,width:p.right-p.left,height:p.bottom-p.top,fill:'none',stroke:'#000','stroke-width':3},g);
  
  

  p.xTicks.forEach(v=>{
    const t=mk('line',{x1:xPos(v),x2:xPos(v),y1:p.bottom,y2:p.bottom+15,stroke:'#000','stroke-width':2.8},g);
    
    
    const l=mk('text',{x:xPos(v),y:1810,'font-size':42,'text-anchor':'middle'},g);
    
    
    l.textContent=String(v).replace('-','\u2212');
  });
  p.yTicks.forEach(v=>{
    const t=mk('line',{x1:p.left-15,x2:p.left,y1:yPos(v),y2:yPos(v),stroke:'#000','stroke-width':2.8},g);
    
    
    const l=mk('text',{x:p.left-32,y:yPos(v)+15.5,'font-size':42,'text-anchor':'end'},g);
    
    
    l.textContent=String(v).replace('-','\u2212');
  });

  const title=mk('text',{x:(p.left+p.right)/2,y:94,'font-size':77,'text-anchor':'middle'},g);
  
  
  title.textContent=p.title;

  const lg=mk('g',{},g);
  
  
  const box=mk('rect',{x:p.legLeft,y:146,width:p.legRight-p.legLeft,height:391,rx:6,ry:6,fill:'#fff','fill-opacity':0.8,stroke:'#d4d4d4','stroke-width':3.2},lg);
  
  
  const rowMarkerY=[184.3,250,315.7,381.4,477];
  const rowTextY=[194.5,260,325.3,390.3,457.3];
  categories.forEach((name,i)=>{
    const col=i<5?0:1;
    const row=i%5;
    const my=col===0?rowMarkerY[row]:(row===4?447:rowMarkerY[row]);
    const eg=mk('g',{},lg);
    
    
    const m=mk('circle',{cx:p.legMarkX[col],cy:my,r:8.6,fill:seriesColors[i],'fill-opacity':0.7,stroke:seriesColors[i],'stroke-opacity':0.7,'stroke-width':2.8},eg);
    
    
    name.split('\n').forEach((ln,k)=>{
      const tx=mk('text',{x:p.legTextX[col],y:rowTextY[row]+k*51.7,'font-size':42},eg);
      
      
      tx.textContent=ln;
    });
  });
}
drawPanel({id:'ow-rcnn-ol',title:'OW-RCNN-OL',series:seriesA,left:153,right:2152,top:122.4,bottom:1747,x0:1116.7,sx:58.55,y0:1044.6,sy:39.83,xTicks:xTicksA,yTicks:yTicksA,legLeft:1445,legRight:2131,legMarkX:[1506,1879],legTextX:[1585.5,1959]});
drawPanel({id:'psmp-ow-rcnn',title:'PSMP (OW-RCNN)',series:seriesB,left:2321.4,right:4321,top:122.4,bottom:1747,x0:3245.1,sx:63.54,y0:1122.1,sy:49.63,xTicks:xTicksB,yTicks:yTicksB,legLeft:3613.3,legRight:4299.4,legMarkX:[3674.3,4047.5],legTextX:[3753.6,4127.5]});
</script>
</body>
</html>
